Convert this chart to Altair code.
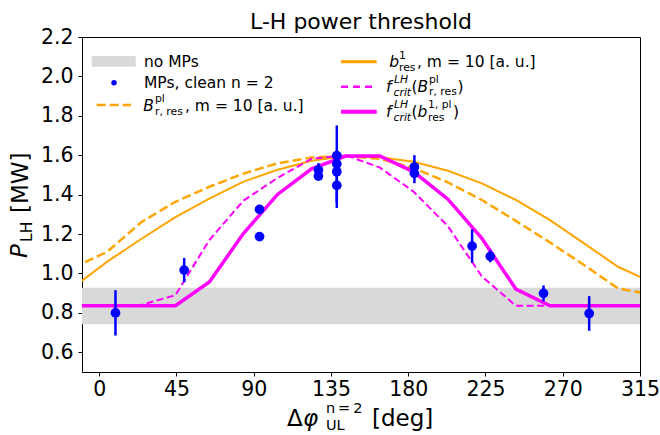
import altair as alt
import pandas as pd

# ---------------- data ----------------
# abscissae of the model curves [deg]
phi_grid = [-15.1, 4.7, 24.5, 44.4, 64.2, 84.1, 103.9, 123.7, 143.6, 163.4,
            183.2, 203.1, 222.9, 242.7, 262.6, 282.4, 302.2, 322.1]
# b^1_res, m = 10 [a.u.]  (orange solid)
b1_res = [0.930, 1.060, 1.175, 1.286, 1.380, 1.466, 1.526, 1.572, 1.596, 1.590,
          1.567, 1.521, 1.457, 1.373, 1.271, 1.153, 1.034, 0.955]
# B^pl_r,res, m = 10 [a.u.]  (orange dashed)
Bpl_res = [1.030, 1.110, 1.260, 1.364, 1.440, 1.507, 1.559, 1.589, 1.596, 1.582,
           1.535, 1.462, 1.373, 1.267, 1.157, 1.043, 0.924, 0.893]
# f_crit^LH(B^pl_r,res)  (magenta dashed)
fcrit_Bpl = [0.836, 0.836, 0.840, 0.890, 1.170, 1.370, 1.485, 1.582, 1.600, 1.538,
             1.415, 1.240, 0.985, 0.836, 0.836, 0.836, 0.836, 0.836]
# f_crit^LH(b^1,pl_res)  (magenta solid)
fcrit_b1pl = [0.836, 0.836, 0.836, 0.836, 0.957, 1.204, 1.401, 1.531, 1.596, 1.596,
              1.516, 1.377, 1.178, 0.921, 0.836, 0.836, 0.836, 0.836]

# MPs, clean n = 2
mp_phi = [9.5, 49.5, 93.4, 93.4, 127.7, 127.7, 138.4, 138.4, 138.4, 138.4,
          183.6, 183.6, 217.2, 227.8, 258.8, 285.4]
mp_P = [0.800, 1.017, 1.325, 1.187, 1.525, 1.494, 1.598, 1.556, 1.516, 1.447,
        1.540, 1.508, 1.139, 1.087, 0.899, 0.797]
mp_err = [0.115, 0.062, 0.020, 0.015, 0.035, 0.020, 0.020, 0.195, 0.020, 0.115,
          0.060, 0.050, 0.085, 0.030, 0.040, 0.088]

# no MPs band
nomp_lo = [0.742]
nomp_hi = [0.927]

x_ticks = [0, 45, 90, 135, 180, 225, 270, 315]
y_ticks = [0.6, 0.8, 1.0, 1.2, 1.4, 1.6, 1.8, 2.0, 2.2]
x_domain = [-10, 315]
y_domain = [0.5, 2.2]

# ---------------- layout / style ----------------
W, H = 558, 335
OX, OY = 82, 37          # plot origin in the page
FONT = "DejaVu Sans"
ORANGE, MAGENTA, BLUE, GREY = "#ffa500", "#ff00ff", "#0000ff", "#d9d9d9"

xs = alt.Scale(domain=x_domain, nice=False, zero=False)
ys = alt.Scale(domain=y_domain, nice=False, zero=False)
x_axis = alt.Axis(values=x_ticks, title=None, labelPadding=3, labelFlush=False,
                  labelOverlap=False, format="d")
y_axis = alt.Axis(values=y_ticks, title=None, labelPadding=5, format=".1f",
                  labelOverlap=False)


def X(field):
    return alt.X(field, type="quantitative", scale=xs, axis=x_axis)


def Y(field):
    return alt.Y(field, type="quantitative", scale=ys, axis=y_axis)


curves = pd.DataFrame({"phi": phi_grid, "b1": b1_res, "Bpl": Bpl_res,
                       "fB": fcrit_Bpl, "fb": fcrit_b1pl})
mps = pd.DataFrame({"phi": mp_phi, "P": mp_P, "err": mp_err})
band = pd.DataFrame({"lo": nomp_lo, "hi": nomp_hi})

band_layer = alt.Chart(band).mark_rect(color=GREY).encode(
    x=alt.value(0), x2=alt.value(W), y=Y("lo"), y2="hi:Q")

orange_solid = alt.Chart(curves).mark_line(color=ORANGE, strokeWidth=2, clip=True).encode(
    x=X("phi"), y=Y("b1"))
orange_dash = alt.Chart(curves).mark_line(color=ORANGE, strokeWidth=2.5, strokeDash=[9, 4],
                                          clip=True).encode(x=X("phi"), y=Y("Bpl"))
mag_dash = alt.Chart(curves).mark_line(color=MAGENTA, strokeWidth=2, strokeDash=[7, 3.5],
                                       clip=True).encode(x=X("phi"), y=Y("fB"))
mag_solid = alt.Chart(curves).mark_line(color=MAGENTA, strokeWidth=3.5, clip=True).encode(
    x=X("phi"), y=Y("fb"))

errbars = alt.Chart(mps).transform_calculate(
    lo="datum.P - datum.err", hi="datum.P + datum.err"
).mark_rule(color=BLUE, strokeWidth=2.5).encode(x=X("phi"), y=Y("lo"), y2="hi:Q")
points = alt.Chart(mps).mark_circle(color=BLUE, opacity=1, size=95).encode(
    x=X("phi"), y=Y("P"))

one = pd.DataFrame({"a": [0]})


def txt(t, px, py, fs, italic=False, angle=None, align="left", baseline="middle"):
    kw = dict(text=t, font=FONT, fontSize=fs, color="black", align=align,
              baseline=baseline, fontStyle="italic" if italic else "normal")
    if angle is not None:
        kw["angle"] = angle
    return alt.Chart(one).mark_text(**kw).encode(x=alt.value(px - OX), y=alt.value(py - OY))


LF, SF = 15.5, 10.8
TH = "\u2009"
texts = [
    # title
    txt("L-H power threshold", OX + W / 2, 29, 22, align="center", baseline="alphabetic"),
    # legend left column
    txt("no MPs", 144, 61.7, LF),
    txt("MPs, clean n = 2", 144, 82.7, LF),
    txt("B", 143.3, 106, LF, True),
    txt("pl", 155, 98.5, SF),
    txt("r, res", 155, 112, SF),
    txt(", m = 10 [a. u.]", 185, 106, LF),
    # legend right column
    txt("b", 389.3, 61.7, LF, True),
    txt("1", 399, 55.5, SF),
    txt("res", 399, 67.5, SF),
    txt(", m = 10 [a. u.]", 417, 61.7, LF),
    txt("f", 386, 86.7, LF, True),
    txt("LH", 394, 79.5, SF, True),
    txt("crit", 393.5, 92.5, SF, True),
    txt("(", 411.5, 86.7, LF),
    txt("B", 417.5, 86.7, LF, True),
    txt("pl", 429, 79.5, SF),
    txt("r, res", 429, 92, SF),
    txt(")", 457.5, 86.7, LF),
    txt("f", 386, 111.7, LF, True),
    txt("LH", 394, 104.5, SF, True),
    txt("crit", 393.5, 117.5, SF, True),
    txt("(", 411.5, 111.7, LF),
    txt("b", 417.5, 111.7, LF, True),
    txt("1, pl", 428, 104.5, SF),
    txt("res", 428, 117.5, SF),
    txt(")", 453, 111.7, LF),
    # x title
    txt("Δ", 287, 419, 23),
    txt("φ", 303, 419, 23, True),
    txt("n" + TH + "=" + TH + "2", 326, 408.5, 14.5),
    txt("UL", 326, 426, 14.5),
    txt("[deg]", 372, 419, 23),
    # y title
    txt("P", 20, 258, 23, True, angle=270),
    txt("LH", 26.5, 242, 15.5, angle=270),
    txt("[MW]", 21, 213, 23, angle=270),
]

swatches = [
    alt.Chart(one).mark_rect(color=GREY).encode(
        x=alt.value(91.7 - OX), x2=alt.value(135.7 - OX),
        y=alt.value(56 - OY), y2=alt.value(66.7 - OY)),
    alt.Chart(one).mark_circle(color=BLUE, opacity=1, size=30).encode(
        x=alt.value(114 - OX), y=alt.value(82.7 - OY)),
    alt.Chart(one).mark_rule(color=ORANGE, strokeWidth=2.5, strokeDash=[9, 4]).encode(
        x=alt.value(96.7 - OX), x2=alt.value(131 - OX), y=alt.value(105 - OY)),
    alt.Chart(one).mark_rule(color=ORANGE, strokeWidth=3).encode(
        x=alt.value(341 - OX), x2=alt.value(376.7 - OX), y=alt.value(61.7 - OY)),
    alt.Chart(one).mark_rule(color=MAGENTA, strokeWidth=2.5, strokeDash=[7, 5]).encode(
        x=alt.value(341 - OX), x2=alt.value(376.7 - OX), y=alt.value(86.7 - OY)),
    alt.Chart(one).mark_rule(color=MAGENTA, strokeWidth=4).encode(
        x=alt.value(341 - OX), x2=alt.value(376.7 - OX), y=alt.value(111.7 - OY)),
]

chart = alt.layer(
    band_layer, orange_solid, orange_dash, mag_dash, mag_solid, errbars, points,
    *swatches, *texts
).properties(
    width=W, height=H,
    autosize=alt.AutoSizeParams(type="none"),
    padding={"left": OX, "top": OY, "right": 660 - OX - W, "bottom": 435 - OY - H},
).configure_view(
    stroke="black", strokeWidth=1
).configure_axis(
    grid=False, domainColor="black", domainWidth=1, tickColor="black", tickWidth=1,
    tickSize=4, labelColor="black", labelFont=FONT, labelFontSize=20.5
)

chart.save("out.html", embed_options={"renderer": "svg", "actions": False})
